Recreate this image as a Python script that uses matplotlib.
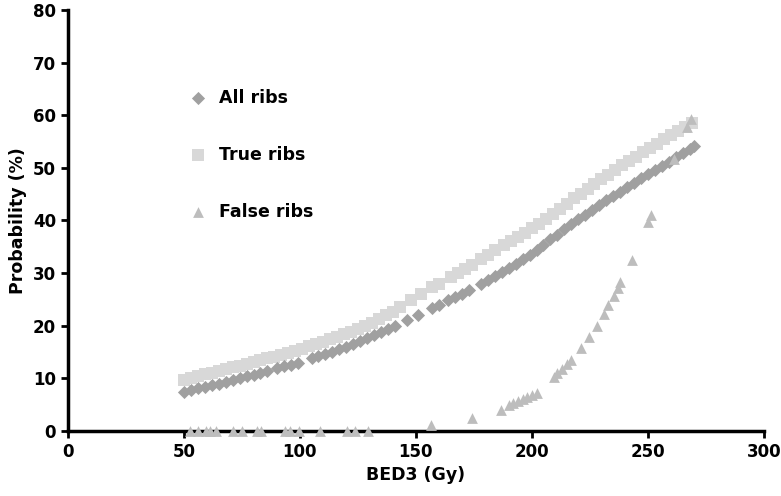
import numpy as np
import matplotlib.pyplot as plt

plt.rcParams['font.family'] = ['DejaVu Sans']
plt.rcParams['font.weight'] = 'bold'

# ALL RIBS (diamonds)
all_x = [50, 53, 56, 59, 62, 65, 68, 71, 74, 77, 80, 83, 86, 90, 93, 96, 99,
         105, 108, 111, 114, 117, 120, 123, 126, 129, 132, 135, 138, 141, 146, 151,
         157, 160, 164, 167, 170, 173, 178, 181, 184, 187, 190, 193, 196, 199, 202,
         205, 208, 211, 214, 217, 220, 223, 226, 229, 232, 235, 238, 241, 244, 247,
         250, 253, 256, 259, 262, 265, 268, 270]
all_y = [7.5, 7.8, 8.1, 8.4, 8.7, 9.0, 9.4, 9.7, 10.0, 10.4, 10.7, 11.1, 11.4, 11.9, 12.3, 12.6, 13.0,
         13.8, 14.2, 14.6, 15.1, 15.5, 16.0, 16.5, 17.1, 17.6, 18.2, 18.8, 19.4, 20.0, 21.0, 22.0,
         23.3, 23.9, 24.8, 25.4, 26.1, 26.8, 28.0, 28.7, 29.5, 30.2, 30.9, 31.8, 32.6, 33.5, 34.4,
         35.4, 36.4, 37.3, 38.3, 39.3, 40.2, 41.1, 42.0, 42.9, 43.8, 44.6, 45.4, 46.3, 47.1, 48.0,
         48.8, 49.6, 50.4, 51.2, 52.0, 52.8, 53.6, 54.1]

# TRUE RIBS (squares)
true_x = [50, 53, 56, 59, 62, 65, 68, 71, 74, 77, 80, 83, 86, 89, 92, 95, 98, 101, 104, 107,
          110, 113, 116, 119, 122, 125, 128, 131, 134, 137, 140, 143, 148, 152, 157, 160,
          165, 168, 171, 174, 178, 181, 184, 188, 191, 194, 197, 200, 203, 206, 209, 212,
          215, 218, 221, 224, 227, 230, 233, 236, 239, 242, 245, 248, 251, 254, 257, 260,
          263, 266, 269]
true_y = [9.6, 10.0, 10.4, 10.8, 11.1, 11.4, 11.8, 12.1, 12.4, 12.8, 13.1, 13.4, 13.8, 14.1, 14.5, 14.8, 15.2, 15.6, 16.1, 16.5,
          17.0, 17.4, 17.9, 18.4, 18.9, 19.4, 20.0, 20.6, 21.3, 22.0, 22.7, 23.5, 24.8, 26.0, 27.3, 28.0,
          29.2, 30.0, 30.8, 31.6, 32.7, 33.5, 34.3, 35.3, 36.1, 36.9, 37.7, 38.5, 39.4, 40.3, 41.2, 42.2,
          43.2, 44.2, 45.1, 46.0, 46.9, 47.8, 48.7, 49.6, 50.5, 51.3, 52.1, 53.0, 53.8, 54.6, 55.4, 56.2,
          57.0, 57.8, 58.5]

# FALSE RIBS (triangles)
false_x = [52.6, 56, 59.5, 61.2, 63.8, 71.1, 75, 81.5, 83.2, 93.5, 95.7, 99.6, 108.6, 120.3, 123.7, 129.3,
           156.7, 174.2, 186.9, 190, 192, 194, 196, 198, 200, 202,
           209.4, 211, 213, 215, 217, 221, 224.5, 228.2, 231, 233, 235.6, 237, 238.2, 243.3,
           250, 251.5, 261.3, 267, 268.4]
false_y = [0, 0, 0, 0, 0, 0, 0, 0, 0, 0, 0, 0, 0, 0, 0, 0,
           1.1, 2.4, 4.0, 4.9, 5.3, 5.7, 6.1, 6.5, 6.9, 7.2,
           10.3, 11.0, 11.8, 12.7, 13.5, 15.7, 17.8, 19.9, 22.2, 23.9, 25.7, 27.1, 28.3, 32.4,
           39.8, 41.0, 51.7, 57.7, 59.2]

fig = plt.figure(figsize=(7.81, 4.96), dpi=100)
ax = fig.add_axes([0.087, 0.131, 0.891, 0.849])

ax.scatter(all_x, all_y, marker='D', s=45, color='#a0a0a0', linewidths=0, label='All ribs', zorder=3)
ax.scatter(true_x, true_y, marker='s', s=85, color='#d8d8d8', linewidths=0, label='True ribs', zorder=2)
ax.scatter(false_x, false_y, marker='^', s=60, color='#bdbdbd', linewidths=0, label='False ribs',
           zorder=5, clip_on=False)

ax.set_xlim(0, 300)
ax.set_ylim(0, 80)
ax.set_xticks([0, 50, 100, 150, 200, 250, 300])
ax.set_yticks([0, 10, 20, 30, 40, 50, 60, 70, 80])
ax.spines['top'].set_visible(False)
ax.spines['right'].set_visible(False)
ax.spines['left'].set_linewidth(2.5)
ax.spines['bottom'].set_linewidth(2.5)
ax.tick_params(direction='out', length=5, width=2, labelsize=12)
for lab in ax.get_xticklabels() + ax.get_yticklabels():
    lab.set_fontweight('bold')

ax.set_xlabel('BED3 (Gy)', fontsize=12.5, fontweight='bold')
ax.set_ylabel('Probability (%)', fontsize=12.5, fontweight='bold')

leg = ax.legend(loc='upper left', bbox_to_anchor=(0.14, 0.85), frameon=False,
                labelspacing=2.25, handletextpad=0.2, scatterpoints=1,
                prop={'size': 12.5, 'weight': 'bold'})

fig.savefig('out.png', dpi=100)
plt.close('all')
